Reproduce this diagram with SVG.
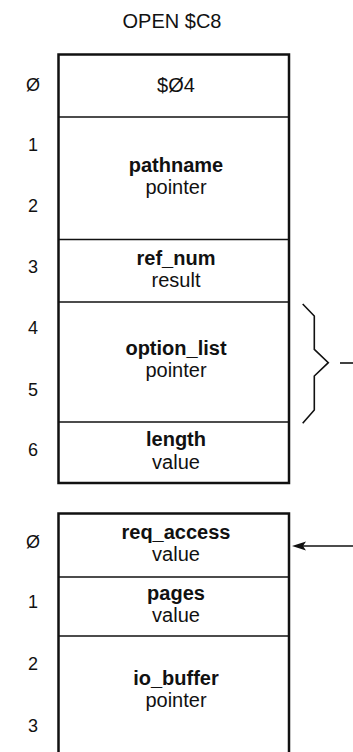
<svg xmlns="http://www.w3.org/2000/svg" width="353" height="752" viewBox="0 0 353 752">
<style>
text{font-family:"Liberation Sans",Arial,sans-serif;fill:#111;text-anchor:middle}
.t{font-size:20px}
.b{font-size:20px;font-weight:bold}
.r{font-size:20px}
.n{font-size:18px}
.box{fill:#fff;stroke:#111;stroke-width:2.5}
.div{stroke:#111;stroke-width:1.6}
.conn{fill:none;stroke:#111;stroke-width:1.6}
.head{fill:#111;stroke:none}
</style>
<text class="t" x="172" y="28">OPEN $C8</text>

<g id="block1">
<rect class="box" x="58.5" y="54.5" width="230.5" height="428.5"/>
<line class="div" x1="58.5" y1="117" x2="289" y2="117"/>
<line class="div" x1="58.5" y1="239.5" x2="289" y2="239.5"/>
<line class="div" x1="58.5" y1="302" x2="289" y2="302"/>
<line class="div" x1="58.5" y1="422" x2="289" y2="422"/>
</g>
<g id="field-04"><text class="r" x="176" y="92">$Ø4</text></g>
<g id="field-pathname"><text class="b" x="176" y="172">pathname</text><text class="r" x="176" y="194">pointer</text></g>
<g id="field-ref_num"><text class="b" x="176" y="265">ref_num</text><text class="r" x="176" y="287">result</text></g>
<g id="field-option_list"><text class="b" x="176" y="355">option_list</text><text class="r" x="176" y="377">pointer</text></g>
<g id="field-length"><text class="b" x="176" y="446">length</text><text class="r" x="176" y="469">value</text></g>

<g id="offsets1">
<text class="n" x="33" y="91">Ø</text>
<text class="n" x="33" y="151">1</text>
<text class="n" x="33" y="212">2</text>
<text class="n" x="33" y="273">3</text>
<text class="n" x="33" y="334">4</text>
<text class="n" x="33" y="396">5</text>
<text class="n" x="33" y="456">6</text>
</g>

<g id="block2">
<path class="box" d="M58.5,752 V513.5 H289 V752"/>
<line class="div" x1="58.5" y1="577" x2="289" y2="577"/>
<line class="div" x1="58.5" y1="636" x2="289" y2="636"/>
</g>
<g id="field-req_access"><text class="b" x="176" y="539">req_access</text><text class="r" x="176" y="561">value</text></g>
<g id="field-pages"><text class="b" x="176" y="600">pages</text><text class="r" x="176" y="622">value</text></g>
<g id="field-io_buffer"><text class="b" x="176" y="685">io_buffer</text><text class="r" x="176" y="707">pointer</text></g>

<g id="offsets2">
<text class="n" x="33" y="548">Ø</text>
<text class="n" x="33" y="608">1</text>
<text class="n" x="33" y="670">2</text>
<text class="n" x="33" y="732">3</text>
</g>

<g id="connectors">
<path class="conn" d="M302.7,304 L314.3,316 V349.3 L328.3,362.7 L314.3,376 V410 L302.7,423.3"/>
<line class="conn" x1="340" y1="363" x2="353" y2="363"/>
<line class="conn" x1="353" y1="546" x2="302" y2="546"/>
<path class="head" d="M292,546 L306,541.5 L303,546 L306,550.5 Z"/>
</g>
</svg>
